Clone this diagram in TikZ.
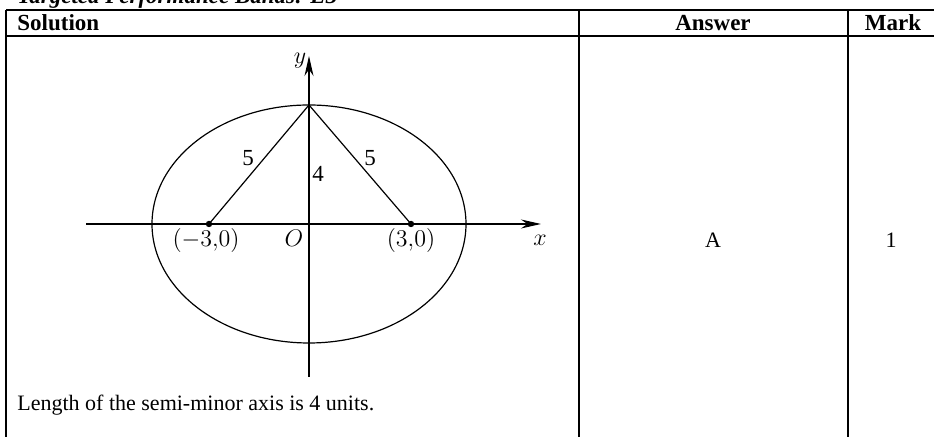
\documentclass[tikz,border=0pt]{standalone}
\usepackage{fontspec}
\setmainfont{Liberation Serif}
\usetikzlibrary{arrows.meta,positioning,calc}
\tikzset{
  tblrule/.style={line width=0.9pt},
  tblthin/.style={line width=0.6pt},
  tblhead/.style={font=\fontsize{11.5}{13}\selectfont\bfseries, inner sep=0pt},
  tblcell/.style={font=\fontsize{11}{13}\selectfont, inner sep=0pt},
  ellaxis/.style={line width=0.6pt, -{Stealth[length=10pt, width=4.5pt]}},
  ellcurve/.style={line width=0.6pt},
  elllabel/.style={font=\fontsize{11.5}{13}\selectfont, inner sep=0pt},
  focusdot/.style={circle, fill, inner sep=0pt, minimum size=3.2pt}
}

\begin{document}
\begin{tikzpicture}[x=0.5pt, y=-0.5pt]
\clip (0,0) rectangle (934,437);
\fill[white] (0,0) rectangle (934,437);

% table frame
\node[font=\fontsize{11.5}{13}\selectfont\bfseries\itshape, inner sep=0pt, anchor=base west] (bands) at (17,4) {Targeted Performance Bands: E3};
\draw[tblthin] (6,10) -- (934,10);
\draw[tblrule] (6,36) -- (934,36);
\draw[tblrule] (6,10) -- (6,437);
\draw[tblrule] (579,10) -- (579,437);
\draw[tblrule] (848,10) -- (848,437);

\node[tblhead, anchor=west] (solution) at (17,23) {Solution};
\node[tblhead] (answer) at (713,23) {Answer};
\node[tblhead] (mark) at (893,23) {Mark};

% ellipse with foci
\coordinate (origin) at (309,224);
\coordinate (top) at (309,105);
\coordinate (xstart) at (86,224);
\coordinate (xend) at (541,224);
\coordinate (ystart) at (309,377);
\coordinate (yend) at (309,56);
\draw[ellcurve] (origin) ellipse [x radius=157, y radius=119];
\draw[ellaxis] (xstart) -- (xend);
\draw[ellaxis] (ystart) -- (yend);
\node[focusdot] (lfocus) at (209,224) {};
\node[focusdot] (rfocus) at (411,224) {};
\draw[ellcurve] (lfocus.center) -- (top);
\draw[ellcurve] (rfocus.center) -- (top);

\node[elllabel] (ylab) at (300,61) {$y$};
\node[elllabel] (xlab) at (540,240) {$x$};
\node[elllabel] (olab) at (294,238) {$O$};
\node[elllabel] (llen) at (248,158) {5};
\node[elllabel] (rlen) at (370,158) {5};
\node[elllabel] (blen) at (318,174) {4};
\node[elllabel] (lflab) at (206,241) {$(-3{,}0)$};
\node[elllabel] (rflab) at (411,241) {$(3{,}0)$};

% answer and mark
\node[tblcell] (ans) at (713,240) {A};
\node[tblcell] (mk) at (891,240) {1};
\node[tblcell, anchor=west] (note) at (17,405) {Length of the semi-minor axis is 4 units.};
\end{tikzpicture}
\end{document}
